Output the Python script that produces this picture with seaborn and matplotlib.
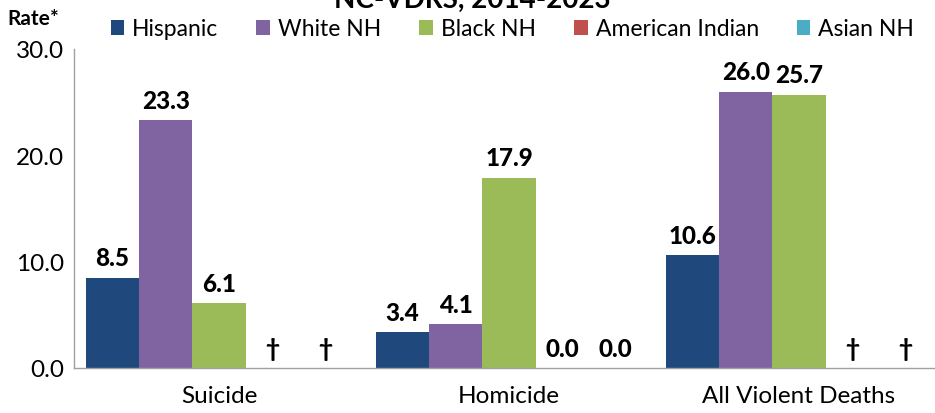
import matplotlib
matplotlib.use("Agg")
import matplotlib.pyplot as plt
import seaborn as sns
import pandas as pd

# data (None = suppressed, shown as dagger)
causes = ["Suicide", "Homicide", "All Violent Deaths"]
groups = ["Hispanic", "White NH", "Black NH", "American Indian", "Asian NH"]
hispanic = [8.5, 3.4, 10.6]
white_nh = [23.3, 4.1, 26.0]
black_nh = [6.1, 17.9, 25.7]
american_indian = [None, 0.0, None]
asian_nh = [None, 0.0, None]
colors = ["#1F497D", "#8064A2", "#9BBB59", "#C0504D", "#4BACC6"]
y_ticks = [0, 10, 20, 30]

series = [hispanic, white_nh, black_nh, american_indian, asian_nh]
rows = []
for g, vals in zip(groups, series):
    for c, v in zip(causes, vals):
        rows.append({"cause": c, "group": g,
                     "rate": 0.0 if v is None else v,
                     "label": "\u2020" if v is None else f"{v:.1f}"})
df = pd.DataFrame(rows)

sns.set_style("white")
plt.rcParams["font.family"] = ["Lato", "DejaVu Sans"]
plt.rcParams["text.color"] = "black"
plt.rcParams["xtick.color"] = "black"
plt.rcParams["ytick.color"] = "black"

fig = plt.figure(figsize=(9.35, 4.14), dpi=100)
ax = fig.add_axes([74 / 935, 45 / 414, 870 / 935, 319 / 414])

sns.barplot(data=df, x="cause", y="rate", hue="group", order=causes,
            hue_order=groups, palette=colors, width=0.92, gap=0,
            saturation=1, linewidth=0, errorbar=None, ax=ax)

# value labels
for cont, g in zip(ax.containers, groups):
    labs = df[df["group"] == g].set_index("cause").loc[causes, "label"].tolist()
    ax.bar_label(cont, labels=labs, padding=6, fontsize=17.5, fontweight="black")

ax.set_ylim(0, 30)
ax.set_yticks(y_ticks)
ax.set_yticklabels([f"{t:.1f}" for t in y_ticks])
ax.set_xlim(-0.5, 2.5)
ax.set_xlabel("")
ax.set_ylabel("")
ax.tick_params(axis="y", length=0, pad=7, labelsize=17.5)
ax.tick_params(axis="x", length=0, pad=12, labelsize=17.5)
for s in ["top", "right"]:
    ax.spines[s].set_visible(False)
for s in ["left", "bottom"]:
    ax.spines[s].set_color("#A0A0A0")
    ax.spines[s].set_linewidth(1)

sns.move_legend(ax, "center", bbox_to_anchor=(0.548, 0.928),
                bbox_transform=fig.transFigure, ncol=5, frameon=False,
                title=None, fontsize=16.5, handlelength=0.6, handleheight=0.6,
                handletextpad=0.35, columnspacing=1.65)

fig.text(0.008, 0.955, "Rate*", fontsize=15, fontweight="bold", va="center")
fig.text(0.505, 1.0, "NC-VDRS, 2014-2023", fontsize=20, fontweight="bold",
         ha="center", va="center")

fig.savefig("out.png", dpi=100)
